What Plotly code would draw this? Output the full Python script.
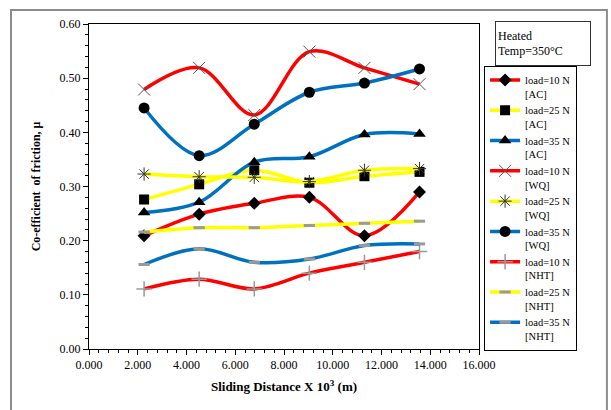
import plotly.graph_objects as go

distance = [2.26, 4.52, 6.78, 9.04, 11.30, 13.56]

ac_10 = [0.209, 0.249, 0.269, 0.280, 0.209, 0.290]
ac_25 = [0.276, 0.304, 0.330, 0.307, 0.319, 0.327]
ac_35 = [0.252, 0.271, 0.345, 0.355, 0.396, 0.397]
wq_10 = [0.479, 0.519, 0.432, 0.549, 0.519, 0.489]
wq_25 = [0.323, 0.318, 0.317, 0.309, 0.330, 0.333]
wq_35 = [0.445, 0.357, 0.415, 0.474, 0.491, 0.517]
nht_10 = [0.111, 0.129, 0.111, 0.140, 0.160, 0.180]
nht_25 = [0.216, 0.224, 0.224, 0.228, 0.232, 0.236]
nht_35 = [0.156, 0.185, 0.160, 0.166, 0.191, 0.194]

names = ["load=10 N<br>[AC]", "load=25 N<br>[AC]", "load=35 N<br>[AC]",
         "load=10 N<br>[WQ]", "load=25 N<br>[WQ]", "load=35 N<br>[WQ]",
         "load=10 N<br>[NHT]", "load=25 N<br>[NHT]", "load=35 N<br>[NHT]"]

RED = "#FF0000"
YEL = "#FFFF00"
BLU = "#0070C0"
GRY = "#9A9A9A"

styles = [
    (ac_10, RED, dict(symbol="diamond", size=10, color="black")),
    (ac_25, YEL, dict(symbol="square", size=10, color="black")),
    (ac_35, BLU, dict(symbol="triangle-up", size=11, color="black")),
    (wq_10, RED, dict(symbol="x-thin-open", size=12, color="#555555", line=dict(width=1, color="#555555"))),
    (wq_25, YEL, dict(symbol="asterisk-open", size=11, color="#333333", line=dict(width=1, color="#333333"))),
    (wq_35, BLU, dict(symbol="circle", size=11, color="black")),
    (nht_10, RED, dict(symbol="cross-thin-open", size=11, color=GRY, line=dict(width=1.5, color=GRY))),
    (nht_25, YEL, dict(symbol="line-ew-open", size=8, color=GRY, line=dict(width=3, color=GRY))),
    (nht_35, BLU, dict(symbol="line-ew-open", size=8, color=GRY, line=dict(width=3, color=GRY))),
]

fig = go.Figure()
for (vals, col, mk), nm in zip(styles, names):
    fig.add_trace(go.Scatter(
        x=distance, y=vals, name=nm, mode="lines+markers",
        line=dict(color=col, width=3.5, shape="spline", smoothing=1.0),
        marker=mk,
    ))

font_family = "Liberation Serif, Times New Roman, serif"

fig.update_layout(
    width=611, height=410,
    margin=dict(l=89, r=132, t=24, b=61),
    paper_bgcolor="white", plot_bgcolor="white",
    font=dict(family=font_family, size=12, color="black"),
    showlegend=True,
    legend=dict(
        x=1.013, y=0.872, xanchor="left", yanchor="top",
        bordercolor="black", borderwidth=1, bgcolor="white",
        font=dict(family=font_family, size=10.5, color="black"),
        valign="top", tracegroupgap=0, itemwidth=30,
        entrywidth=108, entrywidthmode="pixels",
    ),
    xaxis=dict(
        range=[0, 16], dtick=2, tickformat=".3f",
        showgrid=False, zeroline=False,
        showline=True, linecolor="black", linewidth=1, mirror=True,
        ticks="outside", ticklen=5, tickcolor="black",
        minor=dict(dtick=0.4, ticks="outside", ticklen=3, tickcolor="black"),
        tickfont=dict(family=font_family, size=12),
        title=dict(text="<b>Sliding Distance X 10<sup>3</sup> (m)</b>",
                   font=dict(family=font_family, size=13), standoff=10),
    ),
    yaxis=dict(
        range=[0, 0.6], dtick=0.1, tickformat=".2f",
        showgrid=False, zeroline=False,
        showline=True, linecolor="black", linewidth=1, mirror=True,
        ticks="outside", ticklen=5, tickcolor="black",
        minor=dict(dtick=0.02, ticks="outside", ticklen=3, tickcolor="black"),
        tickfont=dict(family=font_family, size=12),
        title=dict(text="<b>Co-efficient  of friction, μ</b>",
                   font=dict(family=font_family, size=12), standoff=16),
    ),
    annotations=[dict(
        text="Heated<br>Temp=350°C", xref="paper", yref="paper",
        x=1.041, y=1.009, xanchor="left", yanchor="top",
        showarrow=False, align="left", width=90, height=39,
        bordercolor="#333333", borderwidth=1, borderpad=2,
        bgcolor="white", font=dict(family=font_family, size=12),
    )],
    shapes=[dict(
        type="rect", xref="paper", yref="paper",
        x0=-0.2, x1=1.328, y0=-0.25, y1=1.043,
        line=dict(color="#8C8C8C", width=2), layer="below",
    )],
)

fig.write_html("out.html")
